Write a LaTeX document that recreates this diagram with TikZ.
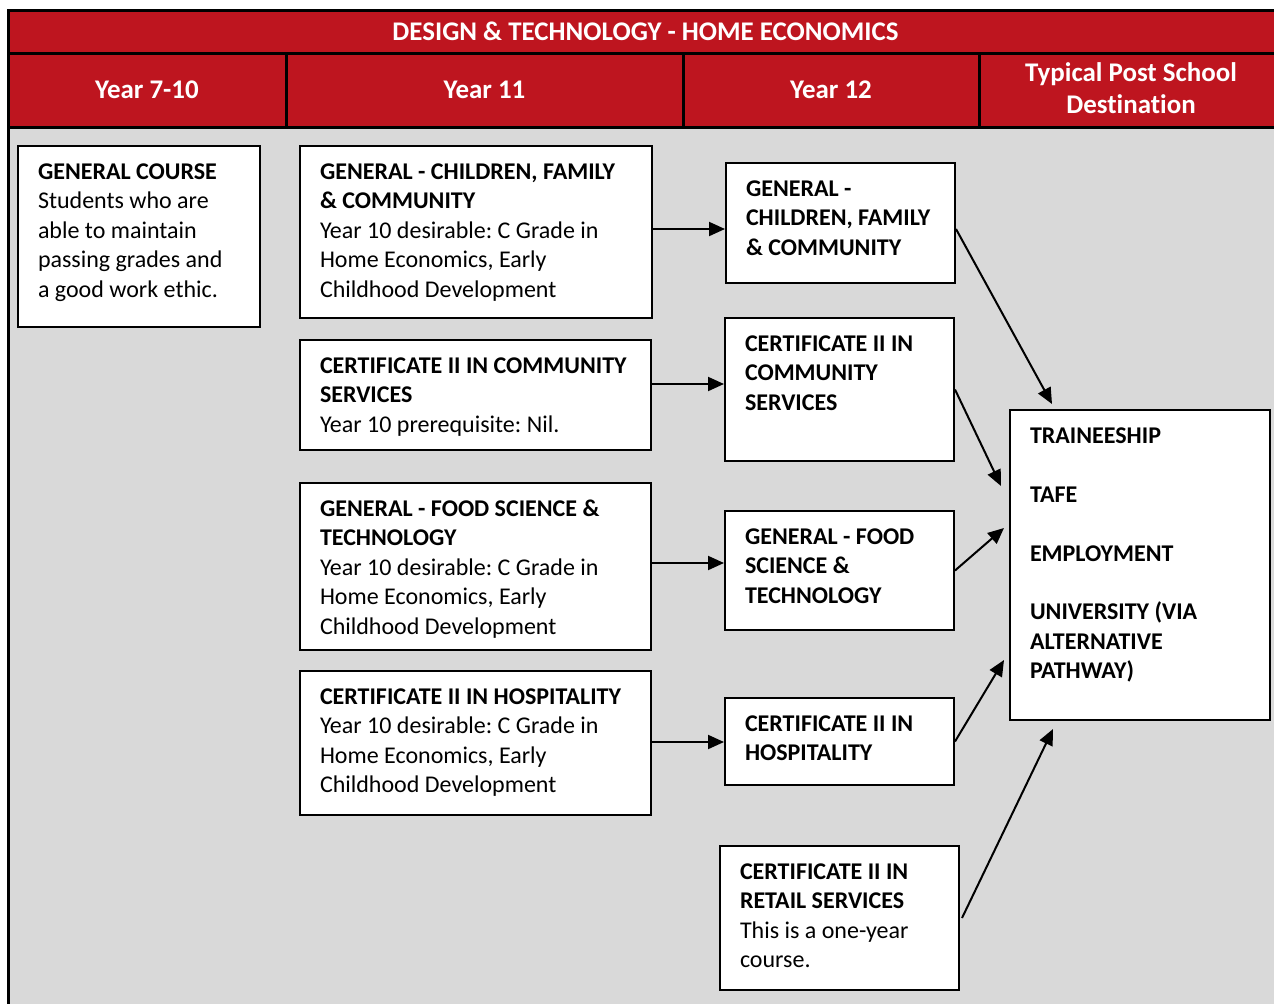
\documentclass[tikz,border=0pt]{standalone}
\usepackage{fontspec}
\setmainfont{Carlito}[Ligatures=NoCommon]
\usetikzlibrary{arrows.meta,calc}
\frenchspacing
\newdimen\pxu \pxu=0.75pt
\definecolor{hdred}{RGB}{190,21,31}
\definecolor{bggray}{RGB}{217,217,217}
\newcommand\boxtext[3]{\begin{minipage}[t][#2\pxu][t]{#1\pxu}\raggedright\leftskip=20\pxu\fontsize{18pt}{22.1pt}\selectfont\rule{0pt}{33.5\pxu}#3\end{minipage}}
\tikzset{
  x=0.75pt, y=-0.75pt,
  box/.style={draw=black, line width=1.5pt, fill=white, inner sep=0pt, anchor=north west},
  hdtext/.style={text=white, font=\fontsize{20.2pt}{24.5pt}\selectfont\bfseries, align=center, inner sep=0pt},
  arr/.style={line width=1.5pt, -{Triangle[length=12pt,width=10.5pt]}},
}
\begin{document}
\begin{tikzpicture}
\useasboundingbox (0,0) rectangle (1274,1003);
\clip (0,0) rectangle (1274,1003);
% frame
\fill[hdred] (8,10) rectangle (1283,127);
\fill[bggray] (8,127) rectangle (1283,1010);
\draw[line width=2.25pt] (8,10) rectangle (1283,1010);
\draw[line width=2.25pt] (8,53) -- (1283,53) (8,127) -- (1283,127);
\draw[line width=2.25pt] (286,53) -- (286,127) (683,53) -- (683,127) (979,53) -- (979,127);
% header texts
\node[hdtext] (title) at (645.5,31.5) {DESIGN \& TECHNOLOGY - HOME ECONOMICS};
\node[hdtext] (h1) at (147,90) {Year 7-10};
\node[hdtext] (h2) at (484.5,90) {Year 11};
\node[hdtext] (h3) at (831,90) {Year 12};
\node[hdtext] (h4) at (1131,88) {Typical Post School\\Destination};
% boxes
\node[box] (gc) at (17,145) {\boxtext{242}{181}{\textbf{GENERAL COURSE}\\Students who are\\able to maintain\\passing grades and\\a good work ethic.}};
\node[box] (cfc11) at (299,145) {\boxtext{352}{172}{\textbf{GENERAL - CHILDREN, FAMILY}\\\textbf{\& COMMUNITY}\\Year 10 desirable: C Grade in\\Home Economics, Early\\Childhood Development}};
\node[box] (comm11) at (299,339) {\boxtext{351}{110}{\textbf{CERTIFICATE II IN COMMUNITY}\\\textbf{SERVICES}\\Year 10 prerequisite: Nil.}};
\node[box] (food11) at (299,482) {\boxtext{351}{167}{\textbf{GENERAL - FOOD SCIENCE \&}\\\textbf{TECHNOLOGY}\\Year 10 desirable: C Grade in\\Home Economics, Early\\Childhood Development}};
\node[box] (hosp11) at (299,670) {\boxtext{351}{144}{\textbf{CERTIFICATE II IN HOSPITALITY}\\Year 10 desirable: C Grade in\\Home Economics, Early\\Childhood Development}};
\node[box] (cfc12) at (725,162) {\boxtext{229}{120}{\textbf{GENERAL -}\\\textbf{CHILDREN, FAMILY}\\\textbf{\& COMMUNITY}}};
\node[box] (comm12) at (724,317) {\boxtext{229}{143}{\textbf{CERTIFICATE II IN}\\\textbf{COMMUNITY}\\\textbf{SERVICES}}};
\node[box] (food12) at (724,510) {\boxtext{229}{119}{\textbf{GENERAL - FOOD}\\\textbf{SCIENCE \&}\\\textbf{TECHNOLOGY}}};
\node[box] (hosp12) at (724,697) {\boxtext{229}{87}{\textbf{CERTIFICATE II IN}\\\textbf{HOSPITALITY}}};
\node[box] (retail) at (719,845) {\boxtext{239}{144}{\textbf{CERTIFICATE II IN}\\\textbf{RETAIL SERVICES}\\This is a one-year\\course.}};
\node[box] (dest) at (1009,409) {\boxtext{260}{310}{\textbf{TRAINEESHIP}\\[29.3\pxu]\textbf{TAFE}\\[29.3\pxu]\textbf{EMPLOYMENT}\\[29.3\pxu]\textbf{UNIVERSITY (VIA}\\\textbf{ALTERNATIVE}\\\textbf{PATHWAY)}}};
% arrows year 11 -> year 12
\draw[arr] ([shift={(0,-3)}]cfc11.east) -- ([shift={(0,-3)}]cfc11.east -| cfc12.west);
\draw[arr] ([shift={(0,-11)}]comm11.east) -- ([shift={(0,-11)}]comm11.east -| comm12.west);
\draw[arr] ([shift={(0,-3.5)}]food11.east) -- ([shift={(0,-3.5)}]food11.east -| food12.west);
\draw[arr] ([shift={(0,-1)}]hosp11.east) -- ([shift={(0,-1)}]hosp11.east -| hosp12.west);
% arrows year 12 -> destination
\coordinate (d1) at ([shift={(43,-5)}]dest.north west);
\coordinate (d2) at ([shift={(-8,77)}]dest.north west);
\coordinate (d3) at ([shift={(-5,119)}]dest.north west);
\coordinate (d4) at ([shift={(-5,251)}]dest.north west);
\coordinate (d5) at ([shift={(44,8)}]dest.south west);
\draw[arr] ([shift={(0,6)}]cfc12.east) -- (d1);
\draw[arr] (comm12.east) -- (d2);
\draw[arr] (food12.east) -- (d3);
\draw[arr] (hosp12.east) -- (d4);
\draw[arr] ([shift={(2,0)}]retail.east) -- (d5);
\end{tikzpicture}
\end{document}
